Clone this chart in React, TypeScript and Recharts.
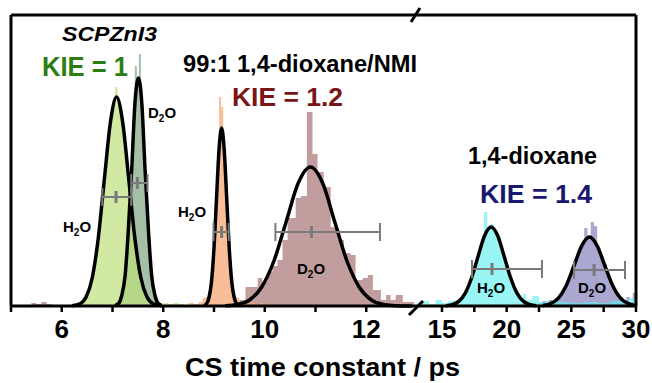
import React from "react";
import { ComposedChart, Area, Line, XAxis, YAxis, Scatter, ErrorBar, ReferenceLine } from "recharts";

const FONT = "'Liberation Sans', Arial, Helvetica, sans-serif";

// ---- axis ticks ----
const leftTicks = [5, 6, 7, 8, 9, 10, 11, 12];
const leftTickLabels = [6, 8, 10, 12];
const rightTicks = [15, 17.5, 20, 22.5, 25, 27.5, 30];
const rightTickLabels = [15, 20, 25, 30];

// ---- histograms (bin start, count) ----
const greenH2OX = [6.2, 6.25, 6.3, 6.35, 6.4, 6.45, 6.5, 6.55, 6.6, 6.65, 6.7, 6.75, 6.8, 6.85, 6.9, 6.95, 7.0, 7.05, 7.1, 7.15, 7.2, 7.25, 7.3, 7.35, 7.4, 7.45, 7.5, 7.55, 7.6, 7.65, 7.7, 7.75, 7.8, 7.85, 7.9, 7.95, 8.0, 8.1, 8.2, 8.3, 8.4];
const greenH2OCounts = [1, 0, 2, 3, 4, 9, 13, 25, 33, 52, 68, 96, 115, 150, 166, 194, 200, 219, 203, 196, 170, 154, 120, 101, 70, 57, 35, 27, 14, 11, 5, 4, 1, 2, 0, 1, 3, 2, 3, 1, 0];

const greenD2OX = [7.04, 7.08, 7.12, 7.16, 7.2, 7.24, 7.28, 7.32, 7.36, 7.4, 7.44, 7.48, 7.52, 7.56, 7.6, 7.64, 7.68, 7.72, 7.76, 7.8, 7.84, 7.88, 7.92, 7.96, 8.0];
const greenD2OCounts = [1, 2, 4, 9, 18, 38, 60, 95, 140, 178, 240, 226, 252, 200, 158, 118, 76, 50, 25, 14, 6, 3, 1, 1, 0];

const orangeH2OX = [8.3, 8.4, 8.5, 8.6, 8.7, 8.78, 8.82, 8.86, 8.9, 8.94, 8.98, 9.02, 9.06, 9.1, 9.14, 9.18, 9.22, 9.26, 9.3, 9.34, 9.38, 9.42, 9.46, 9.5, 9.6, 9.7, 9.8, 9.9, 10.0, 10.1];
const orangeH2OCounts = [2, 1, 3, 2, 4, 8, 9, 10, 16, 30, 60, 95, 145, 209, 199, 158, 120, 78, 44, 22, 10, 9, 8, 3, 2, 4, 2, 3, 1, 0];

const brownD2OX = [5.4, 5.5, 5.6, 5.7, 5.8, 9.5, 9.62, 9.86, 9.95, 10.05, 10.15, 10.25, 10.35, 10.45, 10.61, 10.71, 10.83, 10.94, 11.04, 11.16, 11.3, 11.44, 11.56, 11.69, 11.79, 11.93, 12.03, 12.13, 12.29, 12.39, 12.48, 12.58, 12.72, 12.94];
const brownD2OCounts = [3, 2, 4, 2, 0, 6, 19, 28, 24, 34, 40, 46, 66, 88, 108, 110, 194, 152, 134, 119, 79, 66, 53, 51, 26, 28, 31, 16, 6, 11, 6, 11, 4, 0];

const cyanH2OX = [13.1, 13.5, 14.0, 14.5, 15.0, 15.5, 16.0, 16.25, 16.5, 16.75, 17.0, 17.25, 17.5, 17.75, 18.0, 18.25, 18.5, 18.75, 19.0, 19.25, 19.5, 19.75, 20.0, 20.25, 20.5, 20.75, 21.0, 21.25, 21.5, 22.0, 22.5, 23.0, 24.0, 25.0, 26.0, 27.0, 28.0, 29.0, 29.5, 30.0];
const cyanH2OCounts = [3, 5, 2, 6, 3, 5, 6, 7, 10, 15, 24, 30, 43, 52, 62, 94, 80, 82, 74, 70, 56, 48, 35, 28, 18, 13, 8, 12, 6, 10, 4, 5, 4, 3, 4, 3, 5, 4, 8, 0];

const purpleD2OX = [22.5, 22.75, 23.0, 23.25, 23.5, 23.75, 24.0, 24.25, 24.5, 24.75, 25.0, 25.25, 25.5, 25.75, 26.0, 26.25, 26.5, 26.75, 27.0, 27.25, 27.5, 27.75, 28.0, 28.25, 28.5, 28.75, 29.0, 29.25, 29.5, 29.75, 30.0];
const purpleD2OCounts = [3, 5, 3, 6, 4, 8, 10, 15, 22, 29, 38, 46, 56, 62, 78, 70, 84, 80, 58, 50, 42, 32, 24, 16, 12, 8, 6, 9, 4, 13, 0];

// ---- fitted curves ----
const greenH2OFitX = [6.2, 6.36, 6.48, 6.6, 6.72, 6.84, 6.96, 7.08, 7.2, 7.32, 7.44, 7.56, 7.68, 7.8, 7.96];
const greenH2OFitY = [0.3, 2.3, 9, 28, 68, 127, 184, 209, 184, 127, 68, 28, 9, 2.3, 0.3];
const greenD2OFitX = [7.05, 7.12, 7.18, 7.25, 7.31, 7.38, 7.44, 7.51, 7.58, 7.64, 7.71, 7.77, 7.84, 7.9, 7.97];
const greenD2OFitY = [0.5, 2.5, 10, 31, 74, 138, 201, 228, 201, 138, 74, 31, 10, 2.5, 0.5];
const orangeFitX = [8.8, 8.85, 8.9, 8.95, 9.0, 9.05, 9.1, 9.15, 9.2, 9.25, 9.3, 9.35, 9.4, 9.45, 9.5];
const orangeFitY = [0.4, 2, 8, 24, 58, 108, 157, 178, 157, 108, 58, 24, 8, 2, 0.4];
const brownFitX = [9.22, 9.46, 9.7, 9.94, 10.18, 10.42, 10.66, 10.9, 11.14, 11.38, 11.62, 11.86, 12.1, 12.34, 12.58, 12.9];
const brownFitY = [0.3, 1.5, 6, 19, 45, 84, 123, 139, 123, 84, 45, 19, 6, 1.5, 0.3, 0];
const cyanFitX = [15.3, 15.8, 16.3, 16.8, 17.3, 17.8, 18.3, 18.8, 19.3, 19.8, 20.3, 20.8, 21.3, 21.8, 22.3];
const cyanFitY = [0.3, 1.3, 4.6, 12.9, 28.5, 50, 70.5, 79, 70.5, 50, 28.5, 12.9, 4.6, 1.3, 0.3];
const purpleFitX = [22.8, 23.4, 24.0, 24.6, 25.2, 25.8, 26.4, 27.0, 27.6, 28.2, 28.8, 29.4, 30.0];
const purpleFitY = [0.5, 2.3, 7.8, 20.3, 40, 60.2, 69, 60.2, 40, 20.3, 7.8, 2.3, 0.5];

// ---- error bars (mean, height, lower, upper) ----
const leftErrX = [7.07, 7.49, 9.15, 10.92];
const leftErrY = [109, 123, 74, 74];
const leftErrLow = [0.27, 0.12, 0.16, 0.71];
const leftErrHigh = [0.3, 0.2, 0.14, 1.35];
const rightErrX = [18.87, 26.76];
const rightErrY = [37, 36];
const rightErrLow = [1.55, 1.55];
const rightErrHigh = [3.86, 2.39];

// ---- domains ----
const LEFT_DOMAIN: [number, number] = [5, 13];
const RIGHT_DOMAIN: [number, number] = [13.07, 30];
const Y_DOMAIN: [number, number] = [0, 291];

const pts = (xs: number[], ys: number[]) => xs.map((x, i) => ({ x, y: ys[i] }));
const errPts = (xs: number[], ys: number[], lo: number[], hi: number[]) =>
  xs.map((x, i) => ({ x, y: ys[i], err: [lo[i], hi[i]] }));

const FRAME = { stroke: "#000", strokeWidth: 3 };
const TICK_STYLE = { fontSize: 26, fontWeight: "bold", fill: "#000", fontFamily: FONT } as any;

const CenterTick = (props: any) => {
  const { cx, cy } = props;
  if (cx == null || cy == null) return null;
  return <line x1={cx} x2={cx} y1={cy - 6} y2={cy + 6} stroke="#7a7a7a" strokeWidth={3} />;
};

const hist = (data: any[], fill: string, op: number, key: string) => (
  <Area
    key={key}
    data={data}
    dataKey="y"
    type="stepAfter"
    fill={fill}
    fillOpacity={op}
    stroke="none"
    isAnimationActive={false}
    dot={false}
    activeDot={false}
  />
);

const fit = (data: any[], key: string) => (
  <Line
    key={key}
    data={data}
    dataKey="y"
    type="monotone"
    stroke="#000"
    strokeWidth={3.5}
    dot={false}
    activeDot={false}
    isAnimationActive={false}
  />
);

const Sub = ({ x, y, a, b }: { x: number; y: number; a: string; b: string }) => (
  <text x={x} y={y} fontSize={15} fontWeight="bold" fill="#000" fontFamily={FONT}>
    {a}
    <tspan fontSize={10} dy={4}>2</tspan>
    <tspan dy={-4}>{b}</tspan>
  </text>
);

const T = (p: { x: number; y: number; size: number; len: number; color?: string; italic?: boolean; children: string }) => (
  <text
    x={p.x}
    y={p.y}
    fontSize={p.size}
    fontWeight="bold"
    fontStyle={p.italic ? "italic" : "normal"}
    fill={p.color || "#000"}
    fontFamily={FONT}
    textLength={p.len}
    lengthAdjust="spacingAndGlyphs"
  >
    {p.children}
  </text>
);

export default function App() {
  return (
    <div style={{ position: "absolute", left: 0, top: 0, width: 652, height: 383, background: "#fff", overflow: "hidden" }}>
      {/* left segment 5 - 13 */}
      <div style={{ position: "absolute", left: 0, top: 0 }}>
        <ComposedChart width={417} height={383} margin={{ top: 15, right: 0, bottom: 37, left: 11 }}>
          <XAxis
            dataKey="x"
            type="number"
            domain={LEFT_DOMAIN}
            ticks={leftTicks}
            tickFormatter={(v: number) => (leftTickLabels.includes(v) ? String(v) : "")}
            height={40}
            tickSize={6}
            tickMargin={8}
            tick={TICK_STYLE}
            tickLine={{ stroke: "#000", strokeWidth: 2.5 }}
            axisLine={FRAME}
            allowDataOverflow
          />
          <YAxis dataKey="y" type="number" domain={Y_DOMAIN} hide />
          {hist(pts(brownD2OX, brownD2OCounts), "#a0686a", 0.65, "bh")}
          {hist(pts(orangeH2OX, orangeH2OCounts), "#f7a26b", 0.7, "oh")}
          {hist(pts(greenD2OX, greenD2OCounts), "#5d8a5e", 0.55, "gdh")}
          {hist(pts(greenH2OX, greenH2OCounts), "#bde07a", 0.7, "ghh")}
          {fit(pts(greenH2OFitX, greenH2OFitY), "gf1")}
          {fit(pts(greenD2OFitX, greenD2OFitY), "gf2")}
          {fit(pts(orangeFitX, orangeFitY), "of")}
          {fit(pts(brownFitX, brownFitY), "bf")}
          <Scatter data={errPts(leftErrX, leftErrY, leftErrLow, leftErrHigh)} shape={<CenterTick />} isAnimationActive={false}>
            <ErrorBar dataKey="err" direction="x" width={9} stroke="#7a7a7a" strokeWidth={2} />
          </Scatter>
          <ReferenceLine x={LEFT_DOMAIN[0]} stroke="#000" strokeWidth={3} />
          <ReferenceLine y={Y_DOMAIN[1]} stroke="#000" strokeWidth={3} />
        </ComposedChart>
      </div>
      {/* right segment 13 - 30 */}
      <div style={{ position: "absolute", left: 417, top: 0 }}>
        <ComposedChart width={235} height={383} margin={{ top: 15, right: 16, bottom: 37, left: 0 }}>
          <XAxis
            dataKey="x"
            type="number"
            domain={RIGHT_DOMAIN}
            ticks={rightTicks}
            tickFormatter={(v: number) => (rightTickLabels.includes(v) ? String(v) : "")}
            height={40}
            tickSize={6}
            tickMargin={8}
            tick={TICK_STYLE}
            tickLine={{ stroke: "#000", strokeWidth: 2.5 }}
            axisLine={FRAME}
            allowDataOverflow
          />
          <YAxis dataKey="y" type="number" domain={Y_DOMAIN} hide />
          {hist(pts(purpleD2OX, purpleD2OCounts), "#7d7ab8", 0.65, "ph")}
          {hist(pts(cyanH2OX, cyanH2OCounts), "#55f0ec", 0.6, "ch")}
          {fit(pts(cyanFitX, cyanFitY), "cf")}
          {fit(pts(purpleFitX, purpleFitY), "pf")}
          <Scatter data={errPts(rightErrX, rightErrY, rightErrLow, rightErrHigh)} shape={<CenterTick />} isAnimationActive={false}>
            <ErrorBar dataKey="err" direction="x" width={9} stroke="#7a7a7a" strokeWidth={2} />
          </Scatter>
          <ReferenceLine x={RIGHT_DOMAIN[1]} stroke="#000" strokeWidth={3} />
          <ReferenceLine y={Y_DOMAIN[1]} stroke="#000" strokeWidth={3} />
        </ComposedChart>
      </div>
      {/* annotations */}
      <svg width={652} height={383} style={{ position: "absolute", left: 0, top: 0, pointerEvents: "none" }}>
        <line x1={411} y1={22} x2={420} y2={8} stroke="#000" strokeWidth={3} />
        <line x1={409} y1={315} x2={423} y2={301} stroke="#000" strokeWidth={3} />
        <T x={62} y={41} size={21} len={95} italic>SCPZnI3</T>
        <T x={42} y={76} size={27} len={86} color="#2e7d13">KIE = 1</T>
        <T x={183} y={72} size={23} len={234}>99:1 1,4-dioxane/NMI</T>
        <T x={232} y={106} size={26} len={111} color="#7a1517">KIE = 1.2</T>
        <T x={468} y={164} size={23} len={129}>1,4-dioxane</T>
        <T x={480} y={203} size={26} len={112} color="#18186e">KIE = 1.4</T>
        <T x={185} y={376} size={25} len={275}>CS time constant / ps</T>
        <Sub x={148} y={118} a="D" b="O" />
        <Sub x={63} y={232} a="H" b="O" />
        <Sub x={178} y={217} a="H" b="O" />
        <Sub x={297} y={274} a="D" b="O" />
        <Sub x={477} y={293} a="H" b="O" />
        <Sub x={578} y={293} a="D" b="O" />
      </svg>
    </div>
  );
}
